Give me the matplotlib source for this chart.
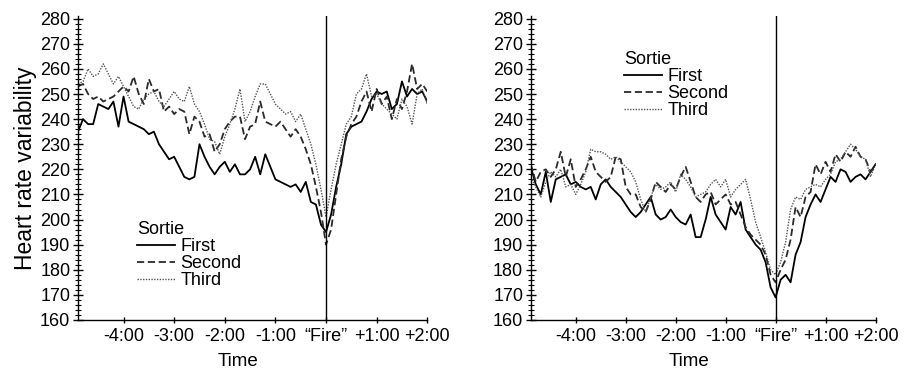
import numpy as np
import matplotlib.pyplot as plt
from matplotlib.ticker import MultipleLocator

plt.rcParams['font.family'] = ['Liberation Sans', 'DejaVu Sans']

# time in minutes relative to "Fire", one reading every 6 s
minutes = np.round(np.arange(-4.9, 2.05, 0.1), 1)

tick_pos = [-4, -3, -2, -1, 0, 1, 2]
tick_labels = ['-4:00', '-3:00', '-2:00', '-1:00', '\u201cFire\u201d', '+1:00', '+2:00']
sorties = ['First', 'Second', 'Third']

# left panel
left_first = [235, 240, 238, 238, 246, 245, 244, 247, 237, 249,
              239, 238, 237, 236, 234, 235, 230, 227, 224, 225,
              221, 217, 216, 217, 230, 225, 221, 218, 221, 223,
              219, 222, 218, 218, 220, 225, 218, 226, 221, 216,
              215, 214, 213, 214, 211, 215, 207, 206, 198, 195,
              202, 213, 222, 234, 237, 238, 239, 243, 248, 251,
              250, 251, 244, 246, 255, 249, 252, 250, 251, 247]
left_second = [253, 254, 250, 248, 249, 247, 248, 249, 251, 253,
               251, 257, 250, 246, 256, 251, 252, 243, 245, 242,
               244, 243, 234, 241, 239, 233, 234, 227, 230, 236,
               239, 241, 241, 232, 237, 238, 247, 239, 238, 237,
               239, 236, 233, 236, 233, 228, 222, 213, 203, 190,
               196, 210, 224, 233, 238, 241, 247, 251, 243, 252,
               246, 249, 240, 248, 244, 251, 262, 252, 254, 251]
left_third = [254, 255, 260, 257, 258, 262, 258, 254, 257, 253,
              249, 245, 244, 248, 250, 251, 247, 245, 248, 251,
              248, 247, 253, 246, 243, 238, 232, 231, 226, 233,
              238, 244, 252, 239, 243, 249, 254, 254, 250, 246,
              244, 242, 243, 239, 242, 236, 230, 222, 212, 201,
              212, 222, 230, 238, 241, 250, 252, 258, 249, 250,
              246, 244, 242, 240, 248, 245, 238, 250, 252, 246]

# right panel
right_first = [221, 214, 210, 219, 207, 216, 217, 218, 214, 215,
               213, 212, 213, 208, 214, 216, 213, 211, 209, 206,
               203, 201, 203, 206, 209, 202, 200, 201, 204, 201,
               199, 198, 202, 193, 193, 200, 209, 202, 199, 196,
               205, 202, 207, 196, 193, 190, 188, 183, 173, 169,
               176, 178, 175, 186, 191, 201, 206, 210, 207, 212,
               217, 215, 220, 219, 215, 217, 218, 216, 219, 222]
right_second = [222, 215, 219, 220, 217, 220, 227, 217, 224, 213,
                216, 220, 225, 219, 217, 215, 217, 225, 224, 213,
                210, 210, 205, 203, 208, 215, 213, 211, 214, 212,
                217, 221, 215, 209, 207, 210, 211, 206, 208, 210,
                206, 207, 202, 197, 194, 192, 190, 186, 178, 175,
                180, 184, 192, 205, 201, 209, 211, 222, 218, 223,
                219, 226, 223, 227, 225, 229, 225, 224, 219, 221]
right_third = [217, 213, 209, 215, 219, 217, 220, 213, 214, 210,
               214, 219, 228, 227, 227, 226, 224, 225, 223, 221,
               219, 215, 208, 203, 209, 214, 212, 213, 215, 211,
               218, 216, 213, 209, 210, 211, 214, 216, 213, 216,
               209, 212, 214, 216, 208, 199, 193, 187, 180, 178,
               183, 191, 204, 209, 208, 212, 213, 214, 213, 216,
               218, 223, 224, 227, 230, 228, 225, 224, 217, 222]

styles = [dict(color='black', linestyle='-', linewidth=1.3),
          dict(color='#2a2a2a', linestyle=(0, (4, 2)), linewidth=1.3),
          dict(color='#555555', linestyle=(0, (1, 1)), linewidth=1.0)]

fig = plt.figure(figsize=(9.12, 3.76), dpi=100)
ax1 = fig.add_axes([0.0855, 0.149, 0.383, 0.808])
ax2 = fig.add_axes([0.582, 0.149, 0.378, 0.808])

panels = [(ax1, [left_first, left_second, left_third], (0.17, 0.325)),
          (ax2, [right_first, right_second, right_third], (0.27, 0.885))]

for ax, series, leg_pos in panels:
    for name, vals, st in zip(sorties, series, styles):
        ax.plot(minutes, vals, label=name, **st)
    ax.axvline(0, color='black', linewidth=1.0)
    ax.set_xlim(-4.9, 2.0)
    ax.set_ylim(160, 281)
    ax.yaxis.set_major_locator(MultipleLocator(10))
    ax.yaxis.set_minor_locator(MultipleLocator(2))
    ax.set_xticks(tick_pos)
    ax.set_xticklabels(tick_labels)
    ax.tick_params(axis='y', which='major', direction='inout', length=7,
                   width=1, labelsize=13, pad=2)
    ax.tick_params(axis='y', which='minor', direction='inout', length=4, width=0.8)
    ax.tick_params(axis='x', direction='inout', length=5, width=1,
                   labelsize=13, pad=3)
    for s in ['top', 'right']:
        ax.spines[s].set_visible(False)
    for s in ['left', 'bottom']:
        ax.spines[s].set_linewidth(1.0)
    ax.set_xlabel('Time', fontsize=13.5)
    ax.xaxis.set_label_coords(0.458, -0.11)
    leg = ax.legend(title='Sortie', loc='upper left', bbox_to_anchor=leg_pos,
                    frameon=False, fontsize=13, title_fontsize=13,
                    handlelength=2.1, handletextpad=0.3, labelspacing=0.0,
                    borderpad=0, borderaxespad=0, alignment='left')

ax1.set_ylabel('Heart rate variability', fontsize=16.5, labelpad=2)

fig.savefig('out.png', dpi=100)
